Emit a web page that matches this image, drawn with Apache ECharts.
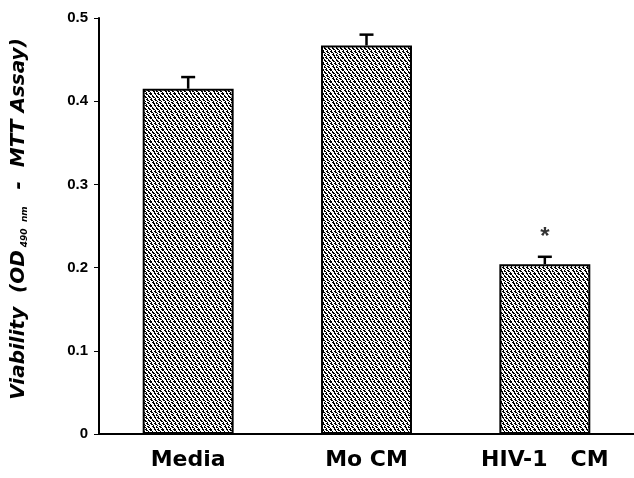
<!DOCTYPE html>
<html>
<head>
<meta charset="utf-8">
<script src="https://cdn.jsdelivr.net/npm/echarts@6/dist/echarts.min.js"></script>
<style>
html,body{margin:0;padding:0;background:#fff;}
#chart{width:634px;height:478px;}
</style>
</head>
<body>
<div id="chart"></div>
<script>
var categories = ['Media', 'Mo CM', 'HIV-1   CM'];
var values = [0.415, 0.467, 0.204];
var errorUpper = [0.429, 0.480, 0.213];
var significance = [null, null, 0.242];
var yTicks = [0, 0.1, 0.2, 0.3, 0.4, 0.5];

// stipple fill pattern (style only)
var dots = [
  '110011001100',
  '011001100110',
  '000100010001',
  '001100110011',
  '100110011001',
  '010001000100',
  '100110001100',
  '110011000110',
  '001000100010',
  '011001110011',
  '001100110001',
  '100010001000'
];
var pat = document.createElement('canvas');
pat.width = 12; pat.height = 12;
var pctx = pat.getContext('2d');
pctx.fillStyle = '#fff'; pctx.fillRect(0, 0, 12, 12);
pctx.fillStyle = '#000';
for (var r = 0; r < 12; r++) for (var c = 0; c < 12; c++) if (dots[r][c] === '1') pctx.fillRect(c, r, 1, 1);

var chart = echarts.init(document.getElementById('chart'));
var font = '"Liberation Sans", Arial, sans-serif';
var wide = '"DejaVu Sans", sans-serif';

chart.setOption({
  animation: false,
  grid: {left: 99, right: 0, top: 18, bottom: 44},
  xAxis: {
    type: 'category',
    data: categories,
    axisLine: {lineStyle: {color: '#000', width: 2}},
    axisTick: {show: false},
    axisLabel: {color: '#000', fontFamily: wide, fontWeight: 'bold', fontSize: 22, margin: 15}
  },
  yAxis: {
    type: 'value',
    min: 0, max: 0.5, interval: 0.1,
    axisLine: {show: true, lineStyle: {color: '#000', width: 2}},
    axisTick: {show: true, inside: false, length: 5, lineStyle: {color: '#000', width: 1}},
    splitLine: {show: false},
    axisLabel: {
      color: '#000', fontFamily: font, fontWeight: 'bold', fontSize: 15, margin: 11,
      formatter: function (v) { return v === 0 ? '0' : v.toFixed(1); }
    },
    name: '{m|Viability  (OD}{s|490  nm}{m|  -  MTT Assay)}',
    nameLocation: 'middle',
    nameGap: 70,
    nameTextStyle: {
      padding: [0, 0, 0, 14],
      rich: {
        m: {fontFamily: wide, fontWeight: 'bold', fontStyle: 'italic', fontSize: 20, color: '#000'},
        s: {fontFamily: wide, fontWeight: 'bold', fontStyle: 'italic', fontSize: 9, color: '#000', verticalAlign: 'bottom', padding: [9, 3, 0, 3]}
      }
    }
  },
  series: [
    {
      type: 'bar',
      data: values,
      barWidth: '51%',
      itemStyle: {color: {image: pat, repeat: 'repeat'}, borderColor: '#000', borderWidth: 2}
    },
    {
      type: 'custom',
      data: errorUpper.map(function (u, i) { return [i, values[i], u]; }),
      z: 5,
      renderItem: function (params, api) {
        var lo = api.coord([api.value(0), api.value(1)]);
        var hi = api.coord([api.value(0), api.value(2)]);
        var hw = 7;
        return {
          type: 'group',
          children: [
            {type: 'line', shape: {x1: lo[0], y1: lo[1], x2: hi[0], y2: hi[1]}, style: {stroke: '#000', lineWidth: 2.5}},
            {type: 'line', shape: {x1: hi[0] - hw, y1: hi[1], x2: hi[0] + hw, y2: hi[1]}, style: {stroke: '#000', lineWidth: 2.5}}
          ]
        };
      }
    },
    {
      type: 'scatter',
      data: significance.map(function (v, i) { return v == null ? null : [i, v]; }).filter(function (d) { return d; }),
      symbolSize: 1,
      itemStyle: {color: 'rgba(0,0,0,0)'},
      label: {show: true, position: 'inside', formatter: '*', color: '#000', fontFamily: font, fontWeight: 'bold', fontSize: 24, offset: [0, 5]}
    }
  ]
});
</script>
</body>
</html>
